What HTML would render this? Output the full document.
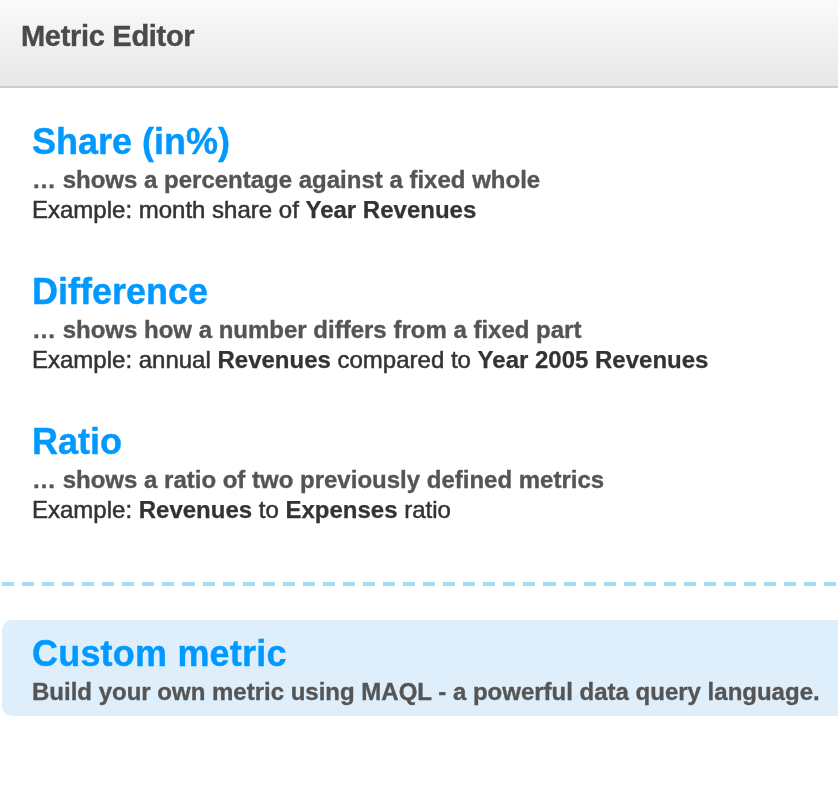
<!DOCTYPE html>
<html><head><meta charset="utf-8"><title>Metric Editor</title>
<style>
html,body{margin:0;padding:0;}
body{width:838px;height:790px;overflow:hidden;background:#fff;font-family:"Liberation Sans",Arial,sans-serif;position:relative;color:#333;}
#hdr{position:absolute;left:0;top:0;width:838px;height:86px;background:linear-gradient(#fafafa 0,#f1f1f1 40px,#e7e7e7 86px);border-bottom:2px solid #c9ced1;}
#hdr h1{position:absolute;left:21px;top:20px;margin:0;font-size:29px;line-height:32px;letter-spacing:-0.3px;font-weight:bold;-webkit-text-stroke:0.4px #4a4a4a;color:#4a4a4a;text-shadow:0 1px 0 #fff;white-space:nowrap;}
.item{position:absolute;left:32px;white-space:nowrap;}
.item h2{margin:0;font-size:36px;line-height:40px;font-weight:bold;color:#0099ff;-webkit-text-stroke:0.4px #0099ff;position:relative;top:1px;}
.item .sub{-webkit-text-stroke:0.35px #555;position:relative;top:4px;font-size:24px;line-height:30px;font-weight:bold;color:#555;}
.item .ex{-webkit-text-stroke:0.5px #333;position:relative;top:4px;font-size:24px;line-height:30px;color:#333;}
#dash{position:absolute;left:2px;top:582px;width:836px;height:4px;background:repeating-linear-gradient(90deg,#a3daf6 0,#a3daf6 12.03px,transparent 12.03px,transparent 20.055px);}
#custom{position:absolute;left:2px;top:620px;width:900px;height:96px;background:#deeffb;border-radius:10px;}
.item .ex b{-webkit-text-stroke:0.25px #333;}
</style></head><body>
<div id="hdr"><h1>Metric Editor</h1></div>
<div class="item" style="top:121px"><h2>Share (in%)</h2><div class="sub">… shows a percentage against a fixed whole</div><div class="ex">Example: month share of <b>Year Revenues</b></div></div>
<div class="item" style="top:271px"><h2>Difference</h2><div class="sub">… shows how a number differs from a fixed part</div><div class="ex">Example: annual <b>Revenues</b> compared to <b>Year 2005 Revenues</b></div></div>
<div class="item" style="top:421px"><h2>Ratio</h2><div class="sub">… shows a ratio of two previously defined metrics</div><div class="ex">Example: <b>Revenues</b> to <b>Expenses</b> ratio</div></div>
<div id="dash"></div>
<div id="custom"></div>
<div class="item" style="top:633px"><h2 style="letter-spacing:0.2px">Custom metric</h2><div class="sub">Build your own metric using MAQL - a powerful data query language.</div></div>
</body></html>
